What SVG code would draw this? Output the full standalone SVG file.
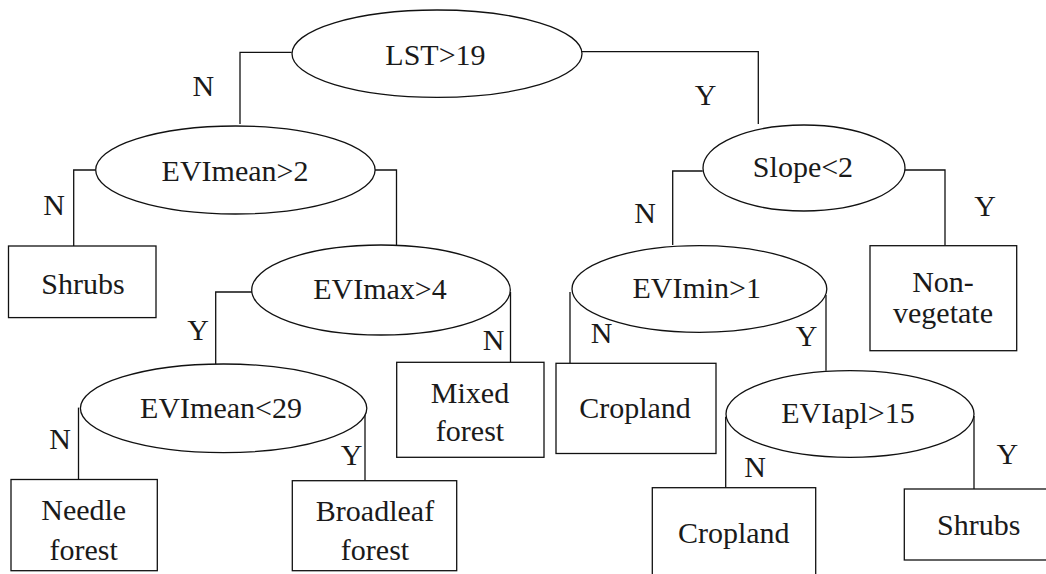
<svg xmlns="http://www.w3.org/2000/svg" width="1046" height="574" viewBox="0 0 1046 574">
  <style>
    .shape { fill: #ffffff; stroke: #111111; stroke-width: 1.3; }
    .wire { fill: none; stroke: #111111; stroke-width: 1.3; }
    .t { font-family: 'Liberation Serif', 'Times New Roman', Times, 'DejaVu Serif', serif; font-size: 30px; fill: #1a1a1a; text-anchor: middle; }
  </style>
  <rect width="1046" height="574" fill="#ffffff"/>

  <!-- branch lines -->
  <g id="connectors">
    <polyline class="wire" points="291.7,52.3 240,52.3 240,124"/>
    <polyline class="wire" points="582,51.7 758.3,51.7 758.3,124"/>
    <polyline class="wire" points="95.7,170 73.7,170 73.7,246"/>
    <polyline class="wire" points="375,170 396.5,170 396.5,245"/>
    <polyline class="wire" points="252,292 215.7,292 215.7,364"/>
    <polyline class="wire" points="510.5,292 510.5,362.3"/>
    <polyline class="wire" points="702.7,171 672.7,171 672.7,245"/>
    <polyline class="wire" points="905,170 945,170 945,245.7"/>
    <polyline class="wire" points="570,292 570,363.3"/>
    <polyline class="wire" points="826,295 826,370.7"/>
    <polyline class="wire" points="78.5,407.6 78.5,479.5"/>
    <polyline class="wire" points="365,407.6 365,480.7"/>
    <polyline class="wire" points="725.7,416.7 725.7,487.7"/>
    <polyline class="wire" points="974,416 974,489"/>
    <!-- branch labels -->
    <text class="t" x="203.3" y="95.7">N</text>
    <text class="t" x="705.7" y="105">Y</text>
    <text class="t" x="54" y="215">N</text>
    <text class="t" x="198" y="340">Y</text>
    <text class="t" x="493.6" y="350">N</text>
    <text class="t" x="645" y="223">N</text>
    <text class="t" x="985" y="216">Y</text>
    <text class="t" x="601.7" y="343">N</text>
    <text class="t" x="806.7" y="346">Y</text>
    <text class="t" x="60" y="449">N</text>
    <text class="t" x="351.6" y="465">Y</text>
    <text class="t" x="755" y="477">N</text>
    <text class="t" x="1007.3" y="464">Y</text>
  </g>

  <!-- decision nodes -->
  <g id="node-lst">
    <ellipse class="shape" cx="437" cy="53.7" rx="145" ry="43.7"/>
    <text class="t" x="435.5" y="65">LST&gt;19</text>
  </g>
  <g id="node-evimean-gt2">
    <ellipse class="shape" cx="235.4" cy="170" rx="139.7" ry="44"/>
    <text class="t" x="235" y="181">EVImean&gt;2</text>
  </g>
  <g id="node-slope">
    <ellipse class="shape" cx="804" cy="168" rx="101" ry="43"/>
    <text class="t" x="803" y="177">Slope&lt;2</text>
  </g>
  <g id="node-evimax">
    <ellipse class="shape" cx="381" cy="290" rx="129.3" ry="45"/>
    <text class="t" x="380" y="299">EVImax&gt;4</text>
  </g>
  <g id="node-evimin">
    <ellipse class="shape" cx="699.4" cy="289" rx="127.4" ry="43.3"/>
    <text class="t" x="696.7" y="298">EVImin&gt;1</text>
  </g>
  <g id="node-evimean-lt29">
    <ellipse class="shape" cx="223.6" cy="408.3" rx="143.2" ry="44.3"/>
    <text class="t" x="221" y="418">EVImean&lt;29</text>
  </g>
  <g id="node-eviapl">
    <ellipse class="shape" cx="850" cy="414" rx="124" ry="43.3"/>
    <text class="t" x="848" y="423.3">EVIapl&gt;15</text>
  </g>

  <!-- class leaves -->
  <g id="leaf-shrubs-1">
    <rect class="shape" x="8.5" y="246" width="147.5" height="71.6"/>
    <text class="t" x="83" y="294">Shrubs</text>
  </g>
  <g id="leaf-non-vegetate">
    <rect class="shape" x="870" y="245.7" width="146.7" height="105"/>
    <text class="t" x="943" y="292">Non-</text>
    <text class="t" x="943" y="323.3">vegetate</text>
  </g>
  <g id="leaf-mixed-forest">
    <rect class="shape" x="396.7" y="362.3" width="147.3" height="95"/>
    <text class="t" x="470" y="402.7">Mixed</text>
    <text class="t" x="470" y="440.7">forest</text>
  </g>
  <g id="leaf-cropland-1">
    <rect class="shape" x="556" y="363.3" width="160" height="90.2"/>
    <text class="t" x="635" y="418.3">Cropland</text>
  </g>
  <g id="leaf-needle-forest">
    <rect class="shape" x="11" y="479.5" width="146.3" height="91.2"/>
    <text class="t" x="83.7" y="520">Needle</text>
    <text class="t" x="83.7" y="560">forest</text>
  </g>
  <g id="leaf-broadleaf-forest">
    <rect class="shape" x="292.3" y="480.7" width="164.4" height="90"/>
    <text class="t" x="375" y="521">Broadleaf</text>
    <text class="t" x="375" y="560">forest</text>
  </g>
  <g id="leaf-cropland-2">
    <rect class="shape" x="652.3" y="487.7" width="163.4" height="120"/>
    <text class="t" x="733.8" y="543">Cropland</text>
  </g>
  <g id="leaf-shrubs-2">
    <rect class="shape" x="904.3" y="489" width="150" height="71"/>
    <text class="t" x="978.7" y="535">Shrubs</text>
  </g>
</svg>
